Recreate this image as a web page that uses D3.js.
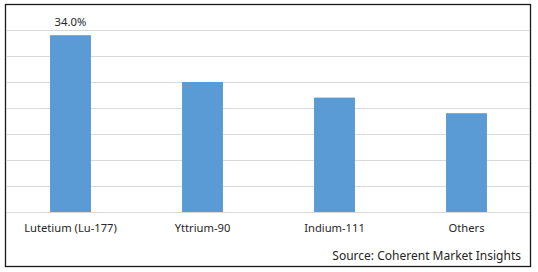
<!DOCTYPE html>
<html>
<head>
<meta charset="utf-8">
<script src="https://cdn.jsdelivr.net/npm/d3@7"></script>
<style>
  html, body { margin: 0; padding: 0; background: #fff; }
  svg { display: block; }
  text { font-family: "Noto Sans", "DejaVu Sans", sans-serif; fill: #262626; }
</style>
</head>
<body>
<svg id="chart" width="538" height="272"></svg>
<script>
const categories = ["Lutetium (Lu-177)", "Yttrium-90", "Indium-111", "Others"];
const values = [34.0, 25.0, 22.0, 19.0];
const gridTicks = [0, 5, 10, 15, 20, 25, 30, 35];
const labelledIndex = 0;
const sourceText = "Source: Coherent Market Insights";

const svg = d3.select("#chart");

const x = d3.scaleBand()
  .domain(categories)
  .range([4.5, 532.5])
  .paddingInner(0.69)
  .paddingOuter(0.345);

const y = d3.scaleLinear()
  .domain([0, 35])
  .range([212, 30]);

// border
svg.append("rect")
  .attr("x", 5.5).attr("y", 4.5)
  .attr("width", 525).attr("height", 262)
  .attr("fill", "#fff")
  .attr("stroke", "#1a1a1a")
  .attr("stroke-width", 1.3);

// gridlines
svg.append("g")
  .attr("transform", "translate(6,0)")
  .call(d3.axisRight(y).tickValues(gridTicks).tickSize(524).tickFormat(""))
  .call(g => g.select(".domain").remove())
  .call(g => g.selectAll("line").attr("stroke", "#d9d9d9").attr("stroke-width", 1)
        .attr("shape-rendering", "crispEdges"));

// bars
svg.append("g").selectAll("rect")
  .data(values)
  .join("rect")
  .attr("x", (d, i) => x(categories[i]))
  .attr("y", d => y(d))
  .attr("width", x.bandwidth())
  .attr("height", d => y(0) - y(d))
  .attr("fill", "#5b9bd5");

// value label
svg.append("text")
  .attr("x", x(categories[labelledIndex]) + x.bandwidth() / 2)
  .attr("y", y(values[labelledIndex]) - 9)
  .attr("text-anchor", "middle")
  .attr("font-size", 11.3)
  .text(values[labelledIndex].toFixed(1) + "%");

// category labels
const xAxis = d3.axisBottom(x).tickSize(0).tickPadding(0);
svg.append("g")
  .attr("transform", "translate(0,224)")
  .call(xAxis)
  .call(g => g.select(".domain").remove())
  .call(g => g.selectAll("text")
        .attr("font-size", 11.2)
        .attr("font-family", "\"Noto Sans\", sans-serif")
        .attr("fill", "#262626")
        .attr("dy", "0.71em"));

// source
svg.append("text")
  .attr("x", 521)
  .attr("y", 260)
  .attr("text-anchor", "end")
  .attr("font-size", 12)
  .text(sourceText);
</script>
</body>
</html>
